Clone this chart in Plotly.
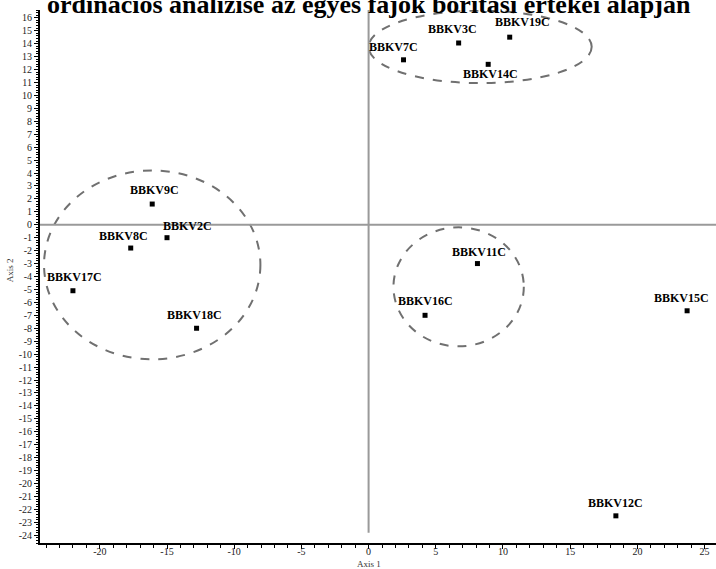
import plotly.graph_objects as go

# ---- data ----
sites = ["BBKV7C", "BBKV3C", "BBKV19C", "BBKV14C", "BBKV9C", "BBKV2C", "BBKV8C",
         "BBKV17C", "BBKV18C", "BBKV11C", "BBKV16C", "BBKV15C", "BBKV12C"]
axis1 = [2.6, 6.7, 10.5, 8.9, -16.1, -15.0, -17.7, -22.0, -12.8, 8.1, 4.2, 23.7, 18.4]
axis2 = [12.75, 14.05, 14.5, 12.4, 1.6, -1.0, -1.8, -5.1, -8.0, -3.0, -7.0, -6.65, -22.5]

x_tick_vals = [-20, -15, -10, -5, 0, 5, 10, 15, 20, 25]
x_tick_text = ["-20", "-15", "-10", "-5", "0", "5", "10", "15", "20", "25"]
y_tick_vals = list(range(-24, 17))
y_tick_text = [str(v) for v in y_tick_vals]

# groups (ellipses): centre x, centre y, half-width, half-height in data units
groups_cx = [8.3, -16.1, 6.7]
groups_cy = [13.75, -3.1, -4.8]
groups_rx = [8.3, 8.05, 4.85]
groups_ry = [2.8, 7.3, 4.6]

title_text = "ordinációs analízise az egyes fajok borítási értékei alapján"

# label offsets (pixels) relative to each point
label_offsets = {
    "BBKV7C": (-10, 13), "BBKV3C": (-6, 14), "BBKV19C": (13, 15), "BBKV14C": (2, -10),
    "BBKV9C": (2, 14), "BBKV2C": (20, 12), "BBKV8C": (-7, 12), "BBKV17C": (2, 14),
    "BBKV18C": (-2, 13), "BBKV11C": (2, 12), "BBKV16C": (0, 14), "BBKV15C": (-6, 13),
    "BBKV12C": (0, 13),
}

SERIF = "Liberation Serif"

fig = go.Figure()
fig.add_trace(go.Scatter(
    x=axis1, y=axis2, mode="markers",
    marker=dict(symbol="square", size=5, color="black"),
    hoverinfo="text", text=sites, showlegend=False,
))

for name, xv, yv in zip(sites, axis1, axis2):
    dx, dy = label_offsets[name]
    fig.add_annotation(x=xv, y=yv, text=name, showarrow=False,
                       xshift=dx, yshift=dy,
                       font=dict(family=SERIF, size=12, color="black", weight="bold"))

shapes = []
for cx, cy, rx, ry in zip(groups_cx, groups_cy, groups_rx, groups_ry):
    shapes.append(dict(type="circle", xref="x", yref="y",
                       x0=cx - rx, x1=cx + rx, y0=cy - ry, y1=cy + ry,
                       line=dict(color="#707070", width=2, dash="dash")))
# reference axes through the origin
shapes.append(dict(type="line", xref="x", yref="y", x0=0, x1=0, y0=-23.8, y1=16.6,
                   line=dict(color="#9a9a9a", width=2)))
shapes.append(dict(type="line", xref="paper", yref="y", x0=0, x1=1, y0=0, y1=0,
                   line=dict(color="#9a9a9a", width=2)))

fig.add_annotation(xref="paper", yref="paper", x=0.487, y=1.011, yanchor="middle",
                   text=title_text, showarrow=False,
                   font=dict(family=SERIF, size=26, color="black", weight="bold"))
fig.add_annotation(xref="x", yref="paper", x=0, y=-0.04, yanchor="middle",
                   text="Axis 1", showarrow=False,
                   font=dict(family=SERIF, size=9, color="#333"))
fig.add_annotation(xref="paper", yref="y", x=-0.044, y=-3.5, xanchor="center",
                   text="Axis 2", showarrow=False, textangle=-90,
                   font=dict(family=SERIF, size=9, color="#333"))

fig.update_layout(
    width=716, height=569,
    margin=dict(l=40, r=0, t=10, b=26),
    paper_bgcolor="white", plot_bgcolor="white",
    shapes=shapes,
    font=dict(family=SERIF, color="#222"),
    xaxis=dict(range=[-24.45, 25.85], showgrid=False, zeroline=False, automargin=False,
               tickvals=x_tick_vals, ticktext=x_tick_text,
               ticks="outside", ticklen=4, tickwidth=1, tickcolor="black",
               ticklabelstandoff=-6,
               showline=True, linecolor="black", linewidth=2,
               tickfont=dict(family=SERIF, size=10, color="#222"),
               minor=dict(ticks="outside", dtick=1, ticklen=3, tickcolor="black")),
    yaxis=dict(range=[-24.6, 16.6], showgrid=False, zeroline=False, automargin=False,
               tickvals=y_tick_vals, ticktext=y_tick_text,
               ticks="outside", ticklen=4, tickwidth=1, tickcolor="black",
               showline=True, linecolor="black", linewidth=2,
               tickfont=dict(family=SERIF, size=10, color="#222"),
               minor=dict(ticks="outside", dtick=0.2, ticklen=2, tickcolor="black")),
)

fig.write_html("out.html", config={"displayModeBar": False},
               post_script="document.body.style.margin='0';document.body.style.overflow='hidden';")
